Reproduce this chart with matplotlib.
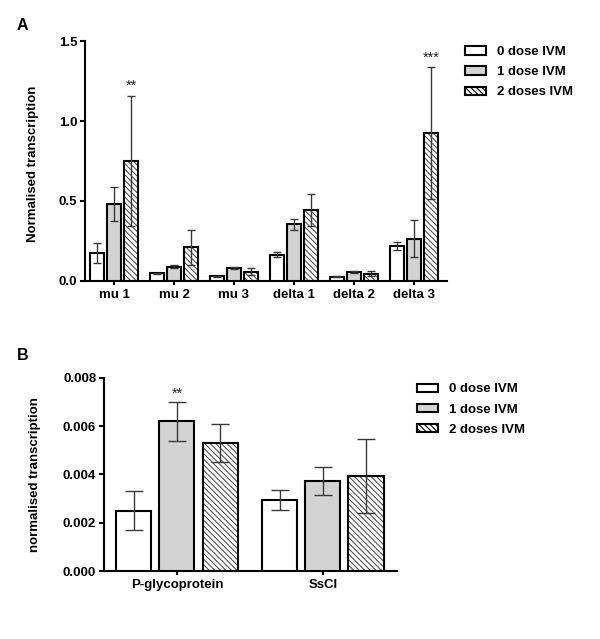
import matplotlib
matplotlib.use("Agg")
import matplotlib.pyplot as plt
import matplotlib.patches as mpatches
import numpy as np

plt.rcParams['font.family'] = ['Liberation Sans', 'DejaVu Sans']
plt.rcParams['hatch.linewidth'] = 0.8

# ---------------- data ----------------
series = ["0 dose IVM", "1 dose IVM", "2 doses IVM"]

genes_a = ["mu 1", "mu 2", "mu 3", "delta 1", "delta 2", "delta 3"]
vals_a_0 = [0.175, 0.047, 0.028, 0.163, 0.025, 0.22]
errs_a_0 = [0.06, 0.005, 0.004, 0.015, 0.003, 0.025]
vals_a_1 = [0.48, 0.09, 0.08, 0.355, 0.055, 0.265]
errs_a_1 = [0.105, 0.01, 0.005, 0.035, 0.007, 0.115]
vals_a_2 = [0.75, 0.21, 0.058, 0.445, 0.045, 0.925]
errs_a_2 = [0.405, 0.11, 0.02, 0.10, 0.015, 0.41]
stars_a = {(0, 2): "**", (5, 2): "***"}
yticks_a = [0.0, 0.5, 1.0, 1.5]

genes_b = ["P-glycoprotein", "SsCl"]
vals_b_0 = [0.0025, 0.00294]
errs_b_0 = [0.0008, 0.0004]
vals_b_1 = [0.0062, 0.00374]
errs_b_1 = [0.0008, 0.00058]
vals_b_2 = [0.0053, 0.00394]
errs_b_2 = [0.0008, 0.00155]
stars_b = {(0, 1): "**"}
yticks_b = [0.0, 0.002, 0.004, 0.006, 0.008]

# ---------------- styling ----------------
FS = 9.5
fill_colors = ["white", "#d3d3d3", "white"]
hatches = [None, None, "\\\\\\\\\\\\"]
ERR_COLOR = "#3a3a3a"


def draw_panel(ax, genes, vals, errs, stars, yticks, ylim, width, offset,
               capsize, yfmt, ylabel, star_off_px):
    x = np.arange(len(genes))
    for i, (v, e) in enumerate(zip(vals, errs)):
        pos = x + (i - 1) * offset
        if hatches[i]:
            ax.bar(pos, v, width, color="white", edgecolor="#555555",
                   hatch=hatches[i], linewidth=0, zorder=2)
            ax.bar(pos, v, width, color="none", edgecolor="black",
                   linewidth=1.5, zorder=3)
        else:
            ax.bar(pos, v, width, color=fill_colors[i], edgecolor="black",
                   linewidth=1.5, zorder=3)
        ax.errorbar(pos, v, yerr=e, fmt="none", ecolor=ERR_COLOR,
                    elinewidth=1.0, capsize=capsize, capthick=1.0, zorder=4)
    for (g, s), txt in stars.items():
        top = vals[s][g] + errs[s][g]
        ax.annotate(txt, xy=(x[g] + (s - 1) * offset, top),
                    xytext=(0, star_off_px), textcoords="offset pixels",
                    ha="center", va="center", fontsize=10.5, color="#222222")
    ax.set_xticks(x)
    ax.set_xticklabels(genes, fontsize=FS, fontweight="bold")
    ax.set_yticks(yticks)
    ax.set_yticklabels([yfmt.format(t) for t in yticks], fontsize=FS,
                       fontweight="bold")
    ax.set_ylim(*ylim)
    ax.set_ylabel(ylabel, fontsize=FS, fontweight="bold")
    for sp in ["top", "right"]:
        ax.spines[sp].set_visible(False)
    for sp in ["left", "bottom"]:
        ax.spines[sp].set_linewidth(1.5)
    ax.tick_params(axis="y", direction="out", length=3.6, width=1.5, pad=2)
    ax.tick_params(axis="x", direction="out", length=3.0, width=1.5, pad=3)


fig = plt.figure(figsize=(6.0, 6.39), dpi=100)

# Panel A
axA = fig.add_axes([0.1417, 0.5603, 0.6033, 0.3755])
draw_panel(axA, genes_a, [vals_a_0, vals_a_1, vals_a_2],
           [errs_a_0, errs_a_1, errs_a_2], stars_a, yticks_a, (0, 1.5),
           width=0.235, offset=0.29, capsize=2.9, yfmt="{:.1f}",
           ylabel="Normalised transcription", star_off_px=10)
axA.set_xlim(-0.483, 5.55)
axA.yaxis.set_label_coords(-0.127, 0.49)

# Panel B
axB = fig.add_axes([0.1733, 0.1064, 0.4883, 0.3021])
draw_panel(axB, genes_b, [vals_b_0, vals_b_1, vals_b_2],
           [errs_b_0, errs_b_1, errs_b_2], stars_b, yticks_b, (0, 0.008),
           width=0.24, offset=0.295, capsize=6.5, yfmt="{:.3f}",
           ylabel="normalised transcription", star_off_px=8)
axB.set_xlim(-0.5, 1.507)
axB.yaxis.set_label_coords(-0.215, 0.5)

# Legends
def make_handles():
    hs = []
    for i, lab in enumerate(series):
        hs.append(mpatches.Patch(facecolor=fill_colors[i], edgecolor="black",
                                 hatch=hatches[i], linewidth=1.5, label=lab))
    return hs

legkw = dict(frameon=False, prop={"size": FS, "weight": "bold"},
             handlelength=1.6, handleheight=0.6, handletextpad=0.85,
             labelspacing=0.62, borderpad=0, borderaxespad=0,
             loc="upper left", bbox_transform=fig.transFigure)
fig.legend(handles=make_handles(), bbox_to_anchor=(0.775, 0.928), **legkw)
fig.legend(handles=make_handles(), bbox_to_anchor=(0.695, 0.400), **legkw)

# Panel letters
fig.text(17 / 600, 1 - 25 / 639, "A", fontsize=11.5, fontweight="bold",
         ha="left", va="center")
fig.text(17 / 600, 1 - 355 / 639, "B", fontsize=11.5, fontweight="bold",
         ha="left", va="center")

fig.savefig("out.png", dpi=100, facecolor="white")
